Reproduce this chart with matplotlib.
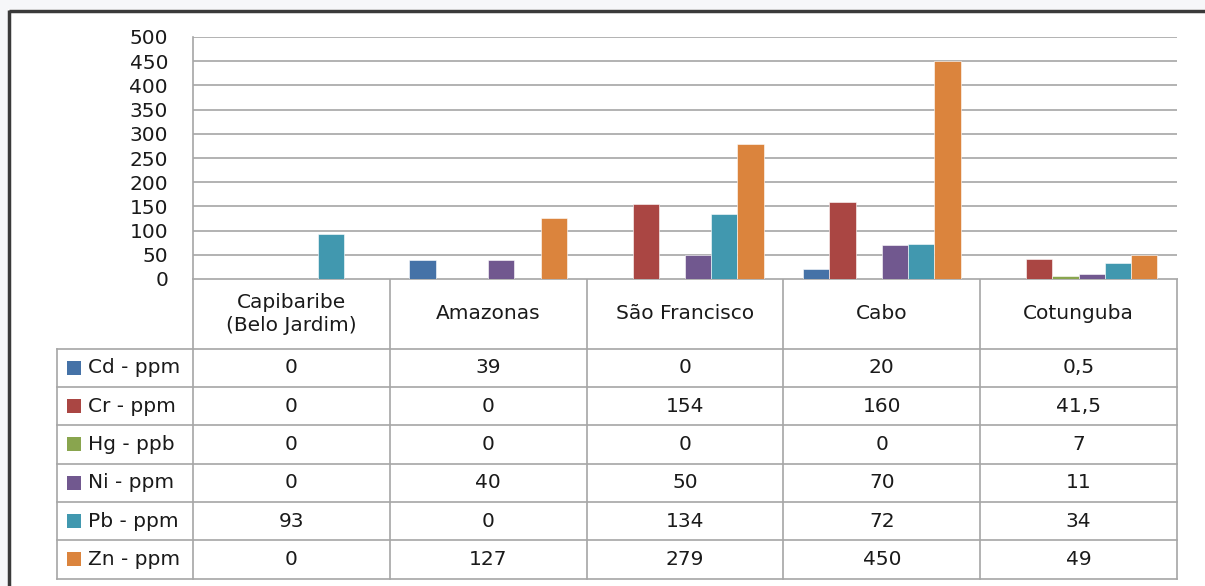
import matplotlib
matplotlib.use('Agg')
import matplotlib.pyplot as plt
import matplotlib.transforms as mtransforms
from matplotlib.patches import Rectangle
import numpy as np

# ---- data ----
categories = ['Capibaribe\n(Belo Jardim)', 'Amazonas', 'São Francisco', 'Cabo', 'Cotunguba']
series_names = ['Cd - ppm', 'Cr - ppm', 'Hg - ppb', 'Ni - ppm', 'Pb - ppm', 'Zn - ppm']
cd = [0, 39, 0, 20, 0.5]
cr = [0, 0, 154, 160, 41.5]
hg = [0, 0, 0, 0, 7]
ni = [0, 40, 50, 70, 11]
pb = [93, 0, 134, 72, 34]
zn = [0, 127, 279, 450, 49]
series_values = [cd, cr, hg, ni, pb, zn]
colors = ['#4572A7', '#AA4643', '#89A54E', '#71588F', '#4198AF', '#DB843D']
yticks = [0, 50, 100, 150, 200, 250, 300, 350, 400, 450, 500]

W, H = 1205, 586
fig = plt.figure(figsize=(W / 100, H / 100), dpi=100)
fig.patch.set_facecolor('white')
plt.rcParams['font.family'] = ['DejaVu Sans']

FS = 14.5
TXT = '#1a1a1a'
GRID = '#a6a6a6'

# plot area in pixels
px_l, px_r, px_t, px_b = 193, 1177, 37, 279
ax = fig.add_axes([px_l / W, 1 - px_b / H, (px_r - px_l) / W, (px_b - px_t) / H])
n_cat = len(categories)
n_ser = len(series_values)
bw = 1 / (n_ser + 1.5)
x = np.arange(n_cat) + 0.5
for j, (vals, c) in enumerate(zip(series_values, colors)):
    ax.bar(x + (j - (n_ser - 1) / 2) * bw, vals, width=bw, color=c,
           edgecolor='white', linewidth=0.4, zorder=3)
ax.set_xlim(0, n_cat)
ax.set_ylim(0, 500)
ax.set_yticks(yticks)
ax.set_yticklabels([str(t) for t in yticks], fontsize=FS, color=TXT)
ax.tick_params(axis='y', length=0, pad=18)
ax.set_xticks([])
ax.grid(axis='y', color=GRID, linewidth=1.2, zorder=0)
for s in ['top', 'right', 'bottom']:
    ax.spines[s].set_visible(False)
ax.spines['left'].set_color(GRID)
ax.spines['left'].set_linewidth(1.2)

# ---- data table (drawn in an overlay axes in pixel units) ----
tab = fig.add_axes([0, 0, 1, 1], zorder=-1)
tab.set_xlim(0, W)
tab.set_ylim(H, 0)
tab.axis('off')
tr = mtransforms.blended_transform_factory(ax.transData, tab.transData)

head_bottom = 348.7
row_h = 38.3
leg_left = 57
table_bottom = head_bottom + n_ser * row_h

tab.plot([px_l, px_r], [px_b, px_b], color=GRID, lw=1.2)
for i in range(n_ser + 1):
    yy = head_bottom + i * row_h
    tab.plot([leg_left, px_r], [yy, yy], color=GRID, lw=1.2)
tab.plot([leg_left, leg_left], [head_bottom, table_bottom], color=GRID, lw=1.2)
for k in range(n_cat + 1):
    tab.plot([k, k], [px_b, table_bottom], color=GRID, lw=1.2, transform=tr)

for k, name in enumerate(categories):
    tab.text(k + 0.5, (px_b + head_bottom) / 2, name, transform=tr, ha='center',
             va='center', fontsize=FS, color=TXT, multialignment='center', linespacing=1.3)

def fmt(v):
    return f'{v:g}'.replace('.', ',')

for i, (name, vals, c) in enumerate(zip(series_names, series_values, colors)):
    yc = head_bottom + (i + 0.5) * row_h
    tab.add_patch(Rectangle((67, yc - 7), 14, 14, facecolor=c, edgecolor='none'))
    tab.text(88, yc, name, ha='left', va='center', fontsize=FS, color=TXT)
    for k, v in enumerate(vals):
        tab.text(k + 0.5, yc, fmt(v), transform=tr, ha='center', va='center',
                 fontsize=FS, color=TXT)

# outer frame of the chart (partially visible)
tab.add_patch(Rectangle((0, 0), W, 9, facecolor='#f6f7f9', edgecolor='none'))
tab.add_patch(Rectangle((0, 0), 8, H, facecolor='#f6f7f9', edgecolor='none'))
tab.plot([9, 9], [10, H], color='#3a3a3a', lw=2.5, solid_capstyle='butt')
tab.plot([9, W], [11, 11], color='#3a3a3a', lw=2.5, solid_capstyle='butt')

fig.savefig('out.png', dpi=100, facecolor='white')
